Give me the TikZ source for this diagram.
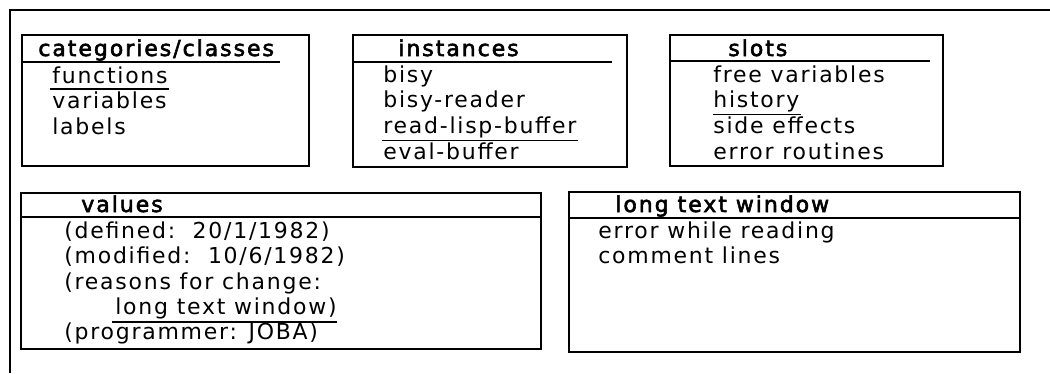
\documentclass[tikz,border=0pt]{standalone}
\usepackage{fontspec}
\setmainfont{DejaVu Sans}[LetterSpace=8]
\newfontfamily\winhead{DejaVu Sans}[LetterSpace=9, FakeBold=2.6]
\usetikzlibrary{calc}

\newcommand\winfont{\fontsize{12.5pt}{15pt}\selectfont}
\tikzset{
  box/.style={draw, line width=0.9pt},
  txt/.style={anchor=base west, inner sep=0pt, font=\winfont},
  head/.style={txt, font=\winfont\winhead},
  uline/.style={line width=0.7pt},
}

\begin{document}
\begin{tikzpicture}[x=0.02cm, y=-0.02cm]
\useasboundingbox (0,0) rectangle (1050,373);
% outer window
\draw[line width=0.9pt] (1050,10) -- (10,10) -- (10,373);

% categories/classes
\draw[box] (22,35) rectangle (309,166);
\draw[uline] (22,62) -- (280,62);
\node[head] (cat-h) at (38,56) {categories/classes};
\foreach \t [count=\i] in {functions,variables,labels} {
 \node[txt] (cat-\i) at (52,{83+25.5*(\i-1)}) {\t};
}
\draw[uline] ($(cat-1.base west)+(-2,6)$) -- ($(cat-1.base east)+(1,6)$);

% instances
\draw[box] (353,35) rectangle (627,167);
\draw[uline] (353,62) -- (612,62);
\node[head] (ins-h) at (398,56) {instances};
\foreach \t [count=\i] in {bisy,bisy-reader,read-lisp-buffer,eval-buffer} {
 \node[txt] (ins-\i) at (383,{82+25.7*(\i-1)}) {\t};
}
\draw[uline] ($(ins-3.base west)+(-1,7)$) -- ($(ins-3.base east)+(1,7)$);

% slots
\draw[box] (670,35) rectangle (943,166);
\draw[uline] (670,61) -- (930,61);
\node[head] (slt-h) at (728,56) {slots};
\foreach \t [count=\i] in {free variables,history,side effects,error routines} {
 \node[txt] (slt-\i) at (713,{82+25.7*(\i-1)}) {\t};
}
\draw[uline] ($(slt-2.base west)+(0,7)$) -- ($(slt-2.base east)+(1,7)$);

% values
\draw[box] (21,193) rectangle (541,349);
\draw[uline] (21,217) -- (541,217);
\node[head] (val-h) at (81,212) {values};
\node[txt] (val-1) at (64,238) {(defined:\ \ 20/1/1982)};
\node[txt] (val-2) at (64,263) {(modified:\ \ 10/6/1982)};
\node[txt] (val-3) at (64,289) {(reasons for change:};
\node[txt] (val-4) at (115,314) {long text window)};
\node[txt] (val-5) at (64,339) {(programmer: JOBA)};
\draw[uline] ($(val-4.base west)+(-3,8)$) -- ($(val-4.base east)+(0,8)$);

% long text window
\draw[box] (569,192) rectangle (1020,352);
\draw[uline] (569,218) -- (1020,218);
\node[head] (ltw-h) at (615,212) {long text window};
\node[txt] (ltw-1) at (598,238) {error while reading};
\node[txt] (ltw-2) at (598,263) {comment lines};
\end{tikzpicture}
\end{document}
